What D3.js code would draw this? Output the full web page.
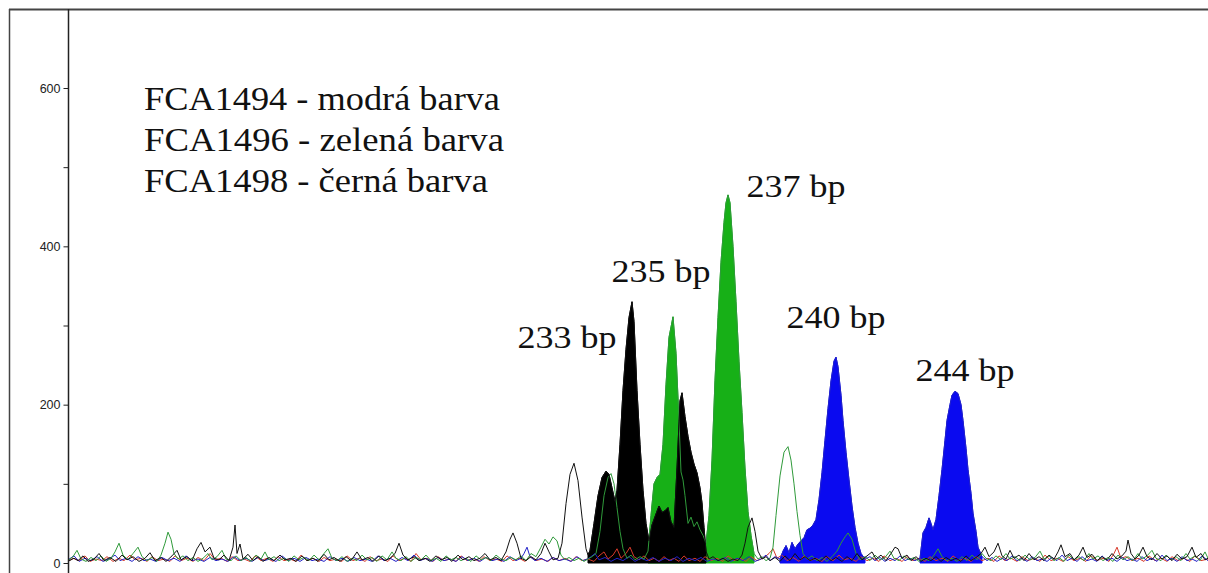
<!DOCTYPE html>
<html><head><meta charset="utf-8">
<script src="https://cdn.jsdelivr.net/npm/d3@7/dist/d3.min.js"></script>
<style>html,body{margin:0;padding:0;background:#fff;}svg{display:block;}
.serif{font-family:"Liberation Serif","Times New Roman","DejaVu Serif",serif;}
.sans{font-family:"Liberation Sans",Arial,sans-serif;}
</style>
</head><body>
<svg id="chart" width="1208" height="573"></svg>
<script>
// ---- data (x = data point / scan position, y = fluorescence units) ----
const yTicks = [0, 100, 200, 300, 400, 500, 600];
const yTickLabels = ["0", "", "200", "", "400", "", "600"];
const legendLines = ["FCA1494 - modrá barva", "FCA1496 - zelená barva", "FCA1498 - černá barva"];
const peakLabels = ["233 bp", "235 bp", "237 bp", "240 bp", "244 bp"];
const peakLabelScan = [567, 661, 796, 836, 965];
const peakLabelLevel = [272, 355, 462, 297, 230];

const blackTrace = [[68,2],[74,6],[78,3],[83,9],[88,2],[94,5],[99,12],[104,3],[110,7],[116,2],[122,10],[127,4],[133,8],[139,2],[145,6],[150,13],[155,3],[161,7],[166,2],[172,9],[177,16],[181,4],[187,8],[192,3],[197,18],[201,26],[205,14],[210,20],[214,6],[219,4],[224,10],[229,3],[233,20],[235,48],[237,12],[240,24],[243,5],[248,11],[253,3],[258,8],[263,2],[269,7],[274,3],[280,10],[285,4],[291,6],[296,2],[302,9],[307,3],[313,6],[318,2],[324,11],[329,4],[334,7],[340,2],[346,8],[351,3],[357,14],[362,4],[368,7],[373,2],[379,9],[385,3],[390,6],[395,12],[399,25],[403,10],[408,4],[414,8],[419,3],[425,6],[430,2],[436,9],[441,4],[447,7],[452,2],[458,10],[463,4],[469,8],[474,3],[480,6],[485,12],[490,4],[496,7],[501,3],[506,14],[510,30],[513,38],[517,25],[521,6],[526,3],[531,8],[536,4],[541,12],[545,25],[549,14],[553,4],[558,6],[562,25],[566,75],[570,112],[574,126],[578,104],[582,58],[586,18],[588,10],[590,16],[594,50],[598,85],[602,108],[606,116],[609,112],[612,95],[615,78],[617,92],[620,150],[623,218],[626,270],[629,310],[632,330],[634,305],[637,218],[640,150],[643,92],[646,50],[649,28],[652,48],[656,62],[659,72],[662,64],[665,66],[668,70],[671,52],[674,45],[677,120],[680,205],[682,215],[685,185],[688,160],[691,140],[694,125],[697,114],[700,95],[702,76],[704,45],[706,15],[709,5],[713,8],[718,3],[723,6],[728,2],[733,5],[738,3],[742,10],[745,25],[748,45],[752,57],[755,40],[758,15],[762,5],[766,8],[770,3],[775,7],[780,2],[785,9],[790,3],[795,12],[800,4],[805,8],[810,3],[815,6],[820,2],[826,9],[831,3],[836,7],[842,2],[847,8],[852,3],[857,12],[862,4],[867,9],[872,14],[876,5],[881,10],[886,3],[891,12],[895,20],[898,18],[902,6],[907,10],[911,3],[916,8],[921,2],[926,6],[931,3],[936,8],[941,2],[946,7],[951,3],[956,6],[961,2],[966,9],[971,3],[976,7],[981,12],[985,20],[989,8],[994,14],[998,25],[1002,9],[1006,5],[1010,16],[1014,6],[1019,10],[1024,3],[1029,12],[1034,4],[1039,8],[1044,3],[1049,10],[1054,5],[1058,14],[1061,23],[1065,8],[1070,12],[1074,4],[1079,10],[1083,20],[1087,7],[1092,11],[1097,3],[1102,8],[1107,4],[1112,12],[1117,5],[1122,9],[1126,15],[1128,29],[1131,12],[1135,5],[1139,10],[1143,20],[1147,8],[1152,4],[1157,12],[1162,5],[1167,9],[1172,3],[1177,11],[1182,5],[1187,8],[1192,20],[1196,7],[1201,12],[1205,4],[1208,6]];

const greenTrace = [[68,3],[73,8],[77,16],[81,5],[86,2],[91,7],[96,3],[101,9],[106,2],[111,6],[115,14],[119,25],[123,10],[128,4],[133,12],[138,20],[142,8],[147,3],[152,7],[157,2],[161,10],[165,25],[168,39],[171,30],[174,12],[178,5],[183,9],[188,3],[193,7],[198,2],[203,6],[208,12],[212,4],[217,8],[222,16],[226,5],[231,3],[236,9],[241,3],[246,7],[251,2],[256,10],[261,5],[265,14],[269,4],[274,8],[279,3],[284,6],[289,2],[294,9],[299,4],[304,7],[309,3],[314,10],[319,4],[324,12],[328,18],[332,6],[337,3],[342,8],[347,2],[352,6],[357,3],[362,10],[367,4],[372,7],[377,2],[382,9],[387,4],[392,14],[396,6],[401,3],[406,8],[411,2],[416,7],[421,4],[426,10],[431,3],[436,6],[441,2],[446,9],[451,4],[456,7],[461,3],[466,6],[471,2],[476,9],[481,4],[486,7],[491,3],[496,10],[501,5],[506,3],[511,7],[516,4],[521,9],[526,3],[531,12],[536,8],[541,20],[545,30],[549,24],[553,33],[557,28],[561,10],[565,4],[569,7],[574,3],[579,6],[584,2],[588,5],[592,8],[596,12],[600,40],[604,85],[608,108],[611,113],[614,100],[617,70],[620,40],[623,18],[627,6],[631,10],[635,4],[640,8],[644,5],[648,15],[651,60],[654,100],[657,108],[660,112],[663,150],[666,225],[669,285],[673,311],[676,265],[679,180],[681,115],[683,105],[685,85],[688,50],[691,58],[694,46],[697,52],[700,42],[703,35],[706,25],[709,60],[712,130],[715,231],[718,310],[721,380],[724,430],[726,455],[728,465],[730,455],[733,400],[736,330],[739,255],[742,190],[745,120],[748,65],[751,35],[754,12],[758,5],[762,8],[766,3],[770,6],[773,20],[776,60],[780,110],[784,140],[788,147],[791,130],[794,100],[797,65],[800,35],[803,12],[807,5],[812,9],[817,3],[822,7],[827,2],[832,8],[837,15],[841,25],[845,33],[848,38],[852,30],[856,12],[860,4],[865,8],[870,3],[875,10],[880,4],[885,7],[890,15],[894,6],[899,3],[904,9],[909,4],[914,7],[919,2],[924,6],[929,3],[934,10],[938,18],[942,8],[947,3],[952,6],[957,2],[962,8],[967,3],[972,10],[977,4],[982,12],[986,6],[991,3],[996,9],[1001,4],[1006,12],[1010,5],[1015,8],[1020,3],[1025,10],[1030,4],[1035,7],[1040,15],[1044,5],[1049,9],[1054,3],[1059,7],[1064,2],[1069,10],[1074,4],[1079,8],[1084,3],[1089,12],[1093,5],[1098,9],[1103,3],[1108,7],[1113,2],[1118,10],[1123,4],[1128,8],[1133,3],[1138,12],[1142,5],[1147,9],[1152,16],[1156,6],[1161,3],[1166,10],[1171,4],[1176,8],[1181,3],[1186,12],[1190,5],[1195,9],[1200,3],[1205,14],[1208,6]];

const blueTrace = [[68,4],[74,9],[79,2],[85,6],[91,3],[97,8],[103,2],[109,5],[115,10],[120,3],[126,6],[132,2],[138,8],[144,3],[150,5],[156,2],[162,7],[168,3],[174,6],[180,2],[186,9],[192,3],[198,5],[204,2],[210,7],[216,3],[222,5],[228,2],[234,8],[240,3],[246,6],[252,2],[258,7],[264,3],[270,5],[276,2],[282,9],[288,3],[294,6],[300,2],[306,7],[312,3],[318,5],[324,2],[330,8],[336,3],[342,6],[348,2],[354,7],[360,3],[366,5],[372,2],[378,9],[384,3],[390,6],[396,2],[402,7],[408,3],[414,10],[420,3],[426,6],[432,2],[438,7],[444,3],[450,5],[456,2],[462,8],[468,3],[474,6],[480,2],[486,7],[492,3],[498,5],[504,2],[510,8],[516,3],[521,6],[524,12],[527,20],[530,8],[535,3],[541,6],[547,2],[553,7],[559,3],[565,5],[571,2],[577,8],[583,3],[589,6],[595,12],[599,4],[605,7],[611,2],[617,6],[623,3],[629,8],[635,2],[641,6],[647,3],[653,7],[659,2],[665,6],[671,3],[677,8],[683,2],[689,6],[695,3],[701,7],[707,2],[713,5],[719,3],[725,7],[731,2],[737,6],[743,3],[749,8],[755,2],[761,5],[766,10],[770,3],[775,8],[780,5],[783,15],[786,22],[789,13],[792,26],[795,18],[798,24],[801,28],[804,32],[807,42],[810,44],[813,48],[816,55],[819,80],[822,114],[825,155],[828,195],[831,230],[834,255],[836,260],[838,248],[841,212],[843,180],[846,140],[849,105],[852,72],[855,45],[858,25],[861,12],[865,5],[870,8],[875,3],[880,7],[885,2],[890,6],[895,3],[900,9],[905,3],[910,6],[915,3],[920,6],[923,38],[926,45],[929,57],[931,50],[933,42],[936,55],[939,85],[942,118],[945,155],[947,180],[950,200],[952,212],[955,217],[958,214],[961,200],[963,180],[966,145],[968,118],[971,88],[973,63],[976,40],[978,20],[982,8],[987,3],[992,7],[997,2],[1002,6],[1007,3],[1012,9],[1017,3],[1022,6],[1027,2],[1032,8],[1037,3],[1042,5],[1047,2],[1052,7],[1057,3],[1062,10],[1067,3],[1072,6],[1077,2],[1082,8],[1087,3],[1092,5],[1097,2],[1102,9],[1107,3],[1112,6],[1117,2],[1122,7],[1127,3],[1132,5],[1137,2],[1142,8],[1147,3],[1152,6],[1157,2],[1162,10],[1167,3],[1172,6],[1177,2],[1182,8],[1187,3],[1192,5],[1197,2],[1202,9],[1208,3]];

const redTrace = [[68,2],[73,6],[79,3],[85,9],[90,2],[96,5],[102,3],[107,8],[113,2],[119,6],[124,3],[130,10],[135,4],[141,6],[147,2],[152,8],[158,3],[164,5],[170,2],[175,9],[181,3],[187,6],[193,2],[198,7],[204,3],[210,12],[215,4],[221,6],[227,2],[232,8],[238,3],[244,5],[250,2],[255,9],[261,3],[267,6],[273,2],[278,8],[284,3],[290,5],[296,2],[301,10],[307,3],[313,6],[319,2],[324,7],[330,3],[336,5],[342,2],[347,9],[353,3],[359,6],[365,2],[370,8],[376,3],[382,5],[388,2],[393,9],[399,3],[405,6],[411,2],[416,12],[421,4],[427,6],[433,2],[438,8],[444,3],[450,5],[456,2],[461,9],[467,3],[473,6],[479,2],[484,8],[490,3],[496,5],[502,2],[507,9],[513,3],[519,6],[525,2],[530,8],[536,3],[542,5],[548,2],[553,7],[559,3],[565,6],[571,2],[576,8],[582,3],[588,5],[594,2],[599,9],[604,14],[608,5],[613,10],[617,18],[621,6],[626,12],[630,20],[634,8],[639,4],[644,9],[649,3],[654,6],[659,2],[664,8],[669,3],[674,6],[679,2],[684,9],[689,3],[695,6],[700,2],[705,8],[711,3],[717,6],[723,2],[728,9],[734,3],[740,6],[746,2],[751,8],[757,3],[763,6],[769,12],[773,18],[777,6],[782,10],[787,3],[793,7],[799,2],[804,9],[810,3],[816,6],[822,2],[827,8],[833,3],[839,10],[844,4],[850,6],[856,2],[861,8],[867,3],[873,6],[879,2],[884,9],[890,3],[896,6],[902,2],[907,8],[913,3],[919,6],[925,2],[930,8],[936,3],[942,6],[948,2],[953,9],[959,3],[965,6],[971,2],[976,8],[982,3],[988,6],[994,2],[999,9],[1005,3],[1011,6],[1017,2],[1022,8],[1028,3],[1034,6],[1040,2],[1045,10],[1051,3],[1057,6],[1063,2],[1068,8],[1074,3],[1080,6],[1086,2],[1091,9],[1097,3],[1103,6],[1109,2],[1114,12],[1117,20],[1121,6],[1126,8],[1132,3],[1138,6],[1144,2],[1149,9],[1155,3],[1161,6],[1167,2],[1172,8],[1178,3],[1184,6],[1190,2],[1195,9],[1201,3],[1208,5]];

// called-peak (filled) ranges in scan units
const greenFills = [[648, 756]];
const blackFills = [[588, 707]];
const blueFills = [[778, 866], [918, 984]];

// ---- drawing ----
const svg = d3.select("#chart");
const W = 1208, H = 573;
const x = d3.scaleLinear().domain([68, 1208]).range([68, 1208]);
const y = d3.scaleLinear().domain([0, 600]).range([563, 88]);

svg.append("rect").attr("width", W).attr("height", H).attr("fill", "#fff");

const plot = svg.append("g");
const area = d3.area().x(d => x(d[0])).y0(y(0)).y1(d => y(d[1])).curve(d3.curveLinear);
const line = d3.line().x(d => x(d[0])).y(d => y(d[1])).curve(d3.curveLinear);

function fills(trace, ranges, color) {
  ranges.forEach(r => {
    const seg = trace.filter(d => d[0] >= r[0] && d[0] <= r[1]);
    plot.append("path").datum(seg).attr("d", area).attr("fill", color).attr("stroke", color).attr("stroke-width", 1);
  });
}
fills(greenTrace, greenFills, "#17b017");
fills(blackTrace, blackFills, "#000000");
fills(blueTrace, blueFills, "#0a0af0");

const lines = [[redTrace, "#d83a2a"], [blueTrace, "#2222c8"], [greenTrace, "#2f9a3a"], [blackTrace, "#111111"]];
lines.forEach(([t, c]) => {
  plot.append("path").datum(t).attr("d", line).attr("fill", "none").attr("stroke", c).attr("stroke-width", 1);
});

// frame
svg.append("line").attr("x1", 9).attr("x2", W).attr("y1", 9.5).attr("y2", 9.5).attr("stroke", "#444").attr("stroke-width", 2);
svg.append("line").attr("x1", 9.5).attr("x2", 9.5).attr("y1", 9).attr("y2", H).attr("stroke", "#444").attr("stroke-width", 1.5);

// y axis
const axis = d3.axisLeft(y).tickValues(yTicks).tickFormat((d, i) => yTickLabels[i]).tickSize(5).tickSizeOuter(0).tickPadding(3);
const gA = svg.append("g").attr("transform", "translate(68.5,0)").call(axis);
gA.select(".domain").remove();
gA.attr("font-family", null).attr("font-size", null);
gA.selectAll(".tick line").attr("stroke", "#222");
gA.selectAll(".tick text").attr("class", "sans").style("font-size", "12.5px").attr("fill", "#222");
svg.append("line").attr("x1", 68.5).attr("x2", 68.5).attr("y1", 9).attr("y2", H).attr("stroke", "#222").attr("stroke-width", 1.5);

// legend text
const legendWidths = [356, 360, 344];
legendLines.forEach((t, i) => {
  svg.append("text").attr("class", "serif").attr("x", 144).attr("y", 110 + i * 41)
    .style("font-size", "33px")
    .attr("textLength", legendWidths[i]).attr("lengthAdjust", "spacingAndGlyphs")
    .attr("fill", "#111").text(t);
});

// peak labels
peakLabels.forEach((t, i) => {
  svg.append("text").attr("class", "serif").attr("x", x(peakLabelScan[i])).attr("y", y(peakLabelLevel[i]))
    .attr("text-anchor", "middle")
    .style("font-size", "31px")
    .attr("textLength", 99).attr("lengthAdjust", "spacingAndGlyphs")
    .attr("fill", "#111").text(t);
});
</script>
</body></html>
